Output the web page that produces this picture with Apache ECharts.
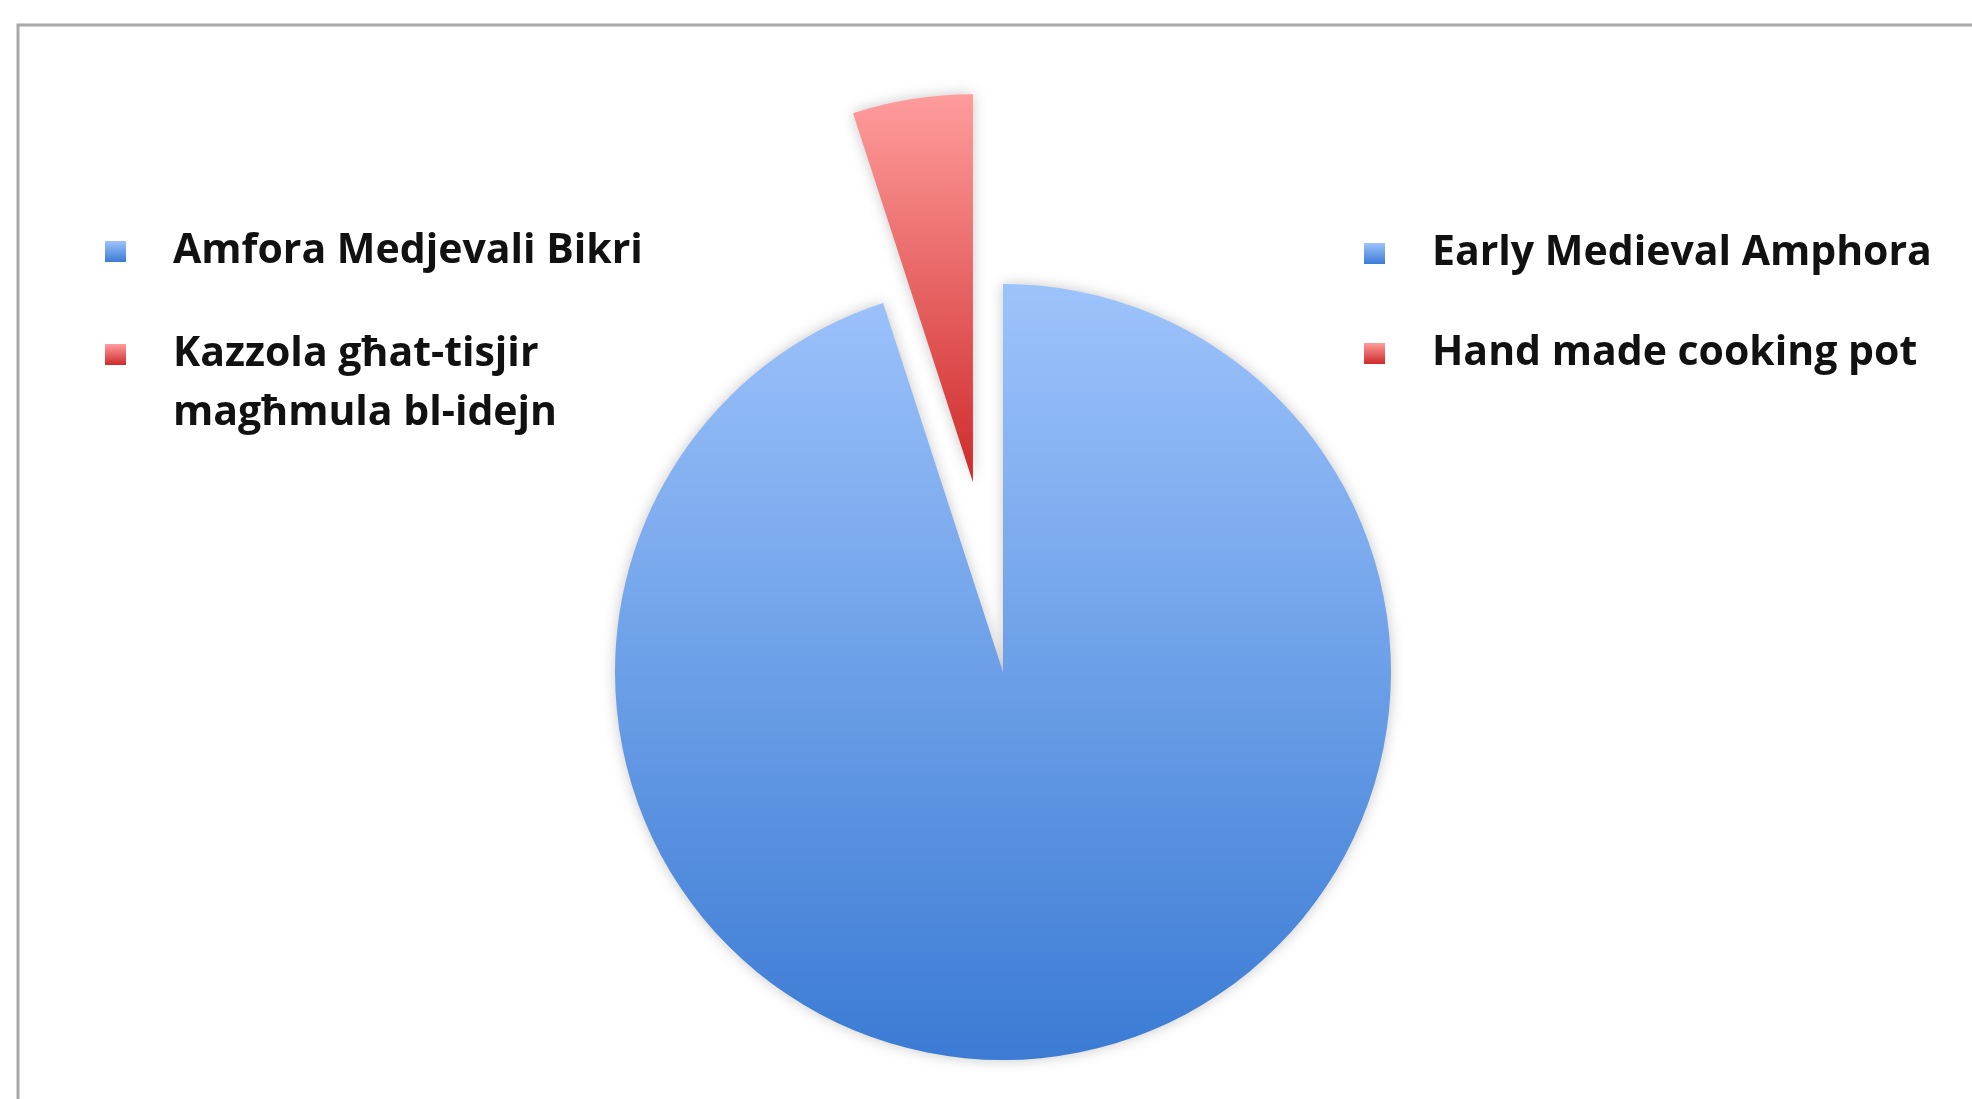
<!DOCTYPE html>
<html>
<head>
<meta charset="utf-8">
<script src="https://cdn.jsdelivr.net/npm/echarts@6/dist/echarts.min.js"></script>
<style>
html, body { margin: 0; padding: 0; background: #fff; }
#main { width: 1972px; height: 1099px; }
</style>
</head>
<body>
<div id="main"></div>
<script>
// categories (English names) and their Maltese legend labels
var categories = ['Early Medieval Amphora', 'Hand made cooking pot'];
var malteseNames = ['Amfora Medjevali Bikri', 'Kazzola għat-tisjir\nmagħmula bl-idejn'];
var values = [95, 5];

var myChart = echarts.init(document.getElementById('main'));

var blueFill = new echarts.graphic.LinearGradient(0, 0, 0, 1, [
    { offset: 0, color: '#9dc3fb' },
    { offset: 1, color: '#3b7bd4' }
]);
var redFill = new echarts.graphic.LinearGradient(0, 0, 0, 1, [
    { offset: 0, color: '#ff9c9c' },
    { offset: 1, color: '#cf2a2a' }
]);
var fills = [blueFill, redFill];

var legendText = {
    fontFamily: 'Open Sans',
    fontWeight: 'bold',
    fontSize: 41,
    lineHeight: 59,
    color: '#111',
    padding: [0, 0, 0, 42]
};

function toMaltese(name) {
    var txt = malteseNames[categories.indexOf(name)];
    // blank first line keeps the icon level with the first text line
    return txt.indexOf('\n') >= 0 ? '\n' + txt : txt;
}

var option = {
    animation: false,
    graphic: [{
        type: 'rect',
        shape: { x: 18, y: 25, width: 2000, height: 1200 },
        style: { fill: 'none', stroke: '#a8a8a8', lineWidth: 3 },
        silent: true
    }],
    legend: [{
        left: 105, top: 222, padding: 0,
        orient: 'vertical',
        itemWidth: 21, itemHeight: 21,
        icon: 'rect',
        data: [categories[0]],
        formatter: toMaltese,
        textStyle: legendText,
        selectedMode: false
    }, {
        left: 105, top: 266, padding: 0,
        orient: 'vertical',
        itemWidth: 21, itemHeight: 21,
        icon: 'rect',
        data: [categories[1]],
        formatter: toMaltese,
        textStyle: legendText,
        selectedMode: false
    }, {
        left: 1364, top: 224, padding: 0,
        orient: 'vertical',
        itemGap: 41,
        itemWidth: 21, itemHeight: 21,
        icon: 'rect',
        data: categories,
        textStyle: legendText,
        selectedMode: false
    }],
    series: [{
        type: 'pie',
        center: [1003, 672],
        radius: 388,
        startAngle: 90,
        clockwise: true,
        selectedMode: 'single',
        selectedOffset: 192,
        label: { show: false },
        labelLine: { show: false },
        emphasis: { disabled: true },
        itemStyle: {
            shadowBlur: 14,
            shadowColor: 'rgba(0,0,0,0.22)'
        },
        data: categories.map(function (name, i) {
            return {
                name: name,
                value: values[i],
                selected: i === 1,
                itemStyle: { color: fills[i] }
            };
        })
    }]
};

myChart.setOption(option);
</script>
</body>
</html>
